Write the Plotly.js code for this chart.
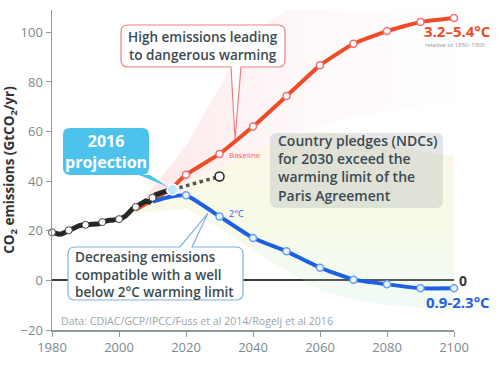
<!DOCTYPE html>
<html>
<head>
<meta charset="utf-8">
<script src="https://cdn.plot.ly/plotly-3.0.1.min.js"></script>
<style>html,body{margin:0;padding:0;background:#fff;}#chart{width:500px;height:370px;}</style>
</head>
<body>
<div id="chart"></div>
<script>
// ---------- data ----------
const histYears = [1980,1981,1982,1983,1984,1985,1986,1987,1988,1989,1990,1991,1992,1993,1994,1995,1996,1997,1998,1999,2000,2001,2002,2003,2004,2005,2006,2007,2008,2009,2010,2011,2012,2013,2014,2015,2016];
const histVals  = [19.4,18.8,18.6,18.8,19.5,20.2,20.8,21.3,22.0,22.3,22.4,22.6,22.3,22.4,22.8,23.5,24.0,24.2,24.2,24.5,24.7,25.2,26.0,27.6,28.8,29.6,30.6,31.5,32.0,31.6,33.3,34.6,35.1,35.7,36.0,36.2,36.6];
const projYear = [2016];
const projVal  = [36.6];
const ndcYears = [2016, 2030];
const ndcVals  = [36.6, 41.9];
const baseYears = [2005, 2010, 2015, 2020, 2030, 2040, 2050, 2060, 2070, 2080, 2090, 2100];
const baseVals  = [28.5, 32.5, 36.4, 42.6, 51.0, 62.0, 74.3, 86.7, 95.4, 100.5, 104.2, 105.8];
const twoYears = [2010, 2015, 2020, 2030, 2040, 2050, 2060, 2070, 2080, 2090, 2100];
const twoVals  = [31.8, 33.6, 34.3, 25.8, 17.1, 11.7, 5.1, 0.3, -1.6, -3.2, -3.2];
const fanYears   = [2005, 2020, 2030, 2040, 2050, 2060, 2070, 2080, 2090, 2100];
const pinkUpper  = [29, 54, 78, 100, 109, 109, 109, 109, 109, 109];
const pinkLower  = [28, 40, 46, 52, 58, 62, 66, 68, 70, 72];
const greenUpper = [28, 40, 46, 52, 58, 60, 58, 55, 52, 50];
const greenLower = [27, 29, 21, 12, 4, -4, -8, -10, -11, -12];
const xTicks = [1980, 2000, 2020, 2040, 2060, 2080, 2100];
const yTicks = [-20, 0, 20, 40, 60, 80, 100];

// ---------- geometry helpers (pixel -> paper) ----------
const L = 52, R = 454, T = 10, B = 330;
const W = R - L, H = B - T;
const px = x => (x - L) / W;
const py = y => (B - y) / H;
const P = (x, y) => px(x).toFixed(4) + ',' + py(y).toFixed(4);

function bubble(x0, y0, x1, y1, r, tail) {
  let d = 'M' + P(x0 + r, y0);
  if (tail && tail.side === 'top') d += ' L' + P(tail.a, y0) + ' L' + P(tail.tx, tail.ty) + ' L' + P(tail.b, y0);
  d += ' L' + P(x1 - r, y0) + ' Q' + P(x1, y0) + ' ' + P(x1, y0 + r);
  d += ' L' + P(x1, y1 - r) + ' Q' + P(x1, y1) + ' ' + P(x1 - r, y1);
  if (tail && tail.side === 'bottom') d += ' L' + P(tail.b, y1) + ' L' + P(tail.tx, tail.ty) + ' L' + P(tail.a, y1);
  d += ' L' + P(x0 + r, y1) + ' Q' + P(x0, y1) + ' ' + P(x0, y1 - r);
  d += ' L' + P(x0, y0 + r) + ' Q' + P(x0, y0) + ' ' + P(x0 + r, y0) + ' Z';
  return d;
}

const RED = '#f04b27', BLUE = '#1f5fe3', TXT = '#3b4a51', CYAN = '#4dc3ec';
const FONT = '"Open Sans", "DejaVu Sans", sans-serif';

const traces = [
  {x: fanYears, y: pinkLower, mode: 'lines', line: {width: 0}, hoverinfo: 'skip', showlegend: false},
  {x: fanYears, y: pinkUpper, mode: 'lines', line: {width: 0}, fill: 'tonexty',
   fillgradient: {type: 'horizontal', colorscale: [[0, 'rgba(245,110,120,0.18)'], [0.5, 'rgba(245,150,165,0.07)'], [1, 'rgba(250,190,200,0.03)']]},
   hoverinfo: 'skip', showlegend: false},
  {x: fanYears, y: greenLower, mode: 'lines', line: {width: 0}, hoverinfo: 'skip', showlegend: false},
  {x: fanYears, y: greenUpper, mode: 'lines', line: {width: 0}, fill: 'tonexty',
   fillgradient: {type: 'vertical', colorscale: [[0, 'rgba(170,225,205,0.16)'], [0.45, 'rgba(215,232,150,0.22)'], [1, 'rgba(248,215,150,0.22)']]},
   hoverinfo: 'skip', showlegend: false},
  // baseline
  {x: baseYears, y: baseVals, mode: 'lines', line: {color: RED, width: 4, shape: 'spline', smoothing: 0.4}, showlegend: false},
  {x: baseYears.filter(y => y >= 2020), y: baseVals.filter((v, i) => baseYears[i] >= 2020), mode: 'markers', cliponaxis: false,
   marker: {size: 7, color: '#fff', line: {color: '#f07070', width: 1.5}}, showlegend: false},
  // 2C
  {x: twoYears, y: twoVals, mode: 'lines', line: {color: BLUE, width: 4, shape: 'spline', smoothing: 0.4}, showlegend: false},
  {x: twoYears.filter(y => y >= 2020), y: twoVals.filter((v, i) => twoYears[i] >= 2020), mode: 'markers', cliponaxis: false,
   marker: {size: 7, color: '#eaf4ff', line: {color: '#6aa0f0', width: 1.5}}, showlegend: false},
  // NDC dotted
  {x: ndcYears, y: ndcVals, mode: 'lines', line: {color: '#555', width: 3.5, dash: 'dot'}, showlegend: false},
  {x: [ndcYears[1]], y: [ndcVals[1]], mode: 'markers', marker: {size: 9, color: '#fff', line: {color: '#222', width: 1.5}}, showlegend: false},
  // historical
  {x: histYears, y: histVals, mode: 'lines', line: {color: '#262626', width: 5}, showlegend: false},
  {x: histYears.filter(y => y % 5 === 0 && y < 2016), y: histVals.filter((v, i) => histYears[i] % 5 === 0 && histYears[i] < 2016), mode: 'markers', cliponaxis: false,
   marker: {size: 7, color: '#fff', line: {color: '#444', width: 1}}, showlegend: false},
  {x: projYear, y: projVal, mode: 'markers', marker: {size: 11, color: '#bfe9f8', line: {color: '#fff', width: 1.5}}, showlegend: false}
];

const shapes = [
  {type: 'path', xref: 'paper', yref: 'paper', path: bubble(121, 25, 285, 67, 7, {side: 'bottom', a: 231, b: 241, tx: 235, ty: 139}),
   fillcolor: '#ffffff', line: {color: '#f08080', width: 1.2}},
  {type: 'path', xref: 'paper', yref: 'paper', path: bubble(63, 128, 149, 175, 7, {side: 'bottom', a: 139, b: 150, tx: 168, ty: 187}),
   fillcolor: CYAN, line: {width: 0}},
  {type: 'path', xref: 'paper', yref: 'paper', path: bubble(68, 247, 243, 300, 7, {side: 'top', a: 180, b: 192, tx: 208, ty: 213}),
   fillcolor: '#ffffff', line: {color: '#7fb2ea', width: 1.2}},
  {type: 'path', xref: 'paper', yref: 'paper', path: bubble(270, 133, 443, 208, 7),
   fillcolor: 'rgba(175,182,182,0.35)', line: {width: 0}}
];

const ann = (x, y, text, opts) => Object.assign({xref: 'paper', yref: 'paper', x: px(x), y: py(y), text: text, showarrow: false,
  xanchor: 'center', yanchor: 'middle',
  font: {family: FONT, size: 14, color: TXT, weight: 600}}, opts || {});

const annotations = [
  ann(203, 46, 'High emissions leading<br>to dangerous warming', {font: {family: FONT, size: 13.5, color: TXT, weight: 600}}),
  ann(106, 151, '2016<br>projection', {font: {family: FONT, size: 16, color: '#fff', weight: 700}}),
  ann(276, 168, 'Country pledges (NDCs)<br>for 2030 exceed the<br>warming limit of the<br>Paris Agreement', {xanchor: 'left', align: 'left', font: {family: FONT, size: 14, color: TXT, weight: 600}}),
  ann(73, 274, 'Decreasing emissions<br>compatible with a well<br>below 2°C warming limit', {xanchor: 'left', align: 'left', font: {family: FONT, size: 13.5, color: TXT, weight: 600}}),
  ann(227, 154, 'Baseline', {xanchor: 'left', font: {family: FONT, size: 8, color: '#f06a6a'}}),
  ann(227, 213, '2°C', {xanchor: 'left', font: {family: FONT, size: 9, color: BLUE}}),
  ann(422, 31, '3.2–5.4°C', {xanchor: 'left', font: {family: FONT, size: 15, color: RED, weight: 700}}),
  ann(423, 45, 'relative to 1850–1900', {xanchor: 'left', font: {family: FONT, size: 6, color: '#8a9599'}}),
  ann(424, 302, '0.9-2.3°C', {xanchor: 'left', font: {family: FONT, size: 15, color: BLUE, weight: 700}}),
  ann(457, 280, '0', {xanchor: 'left', font: {family: FONT, size: 14, color: '#3a3a3a', weight: 700}}),
  ann(59, 321, 'Data: CDIAC/GCP/IPCC/Fuss et al 2014/Rogelj et al 2016', {xanchor: 'left', font: {family: FONT, size: 10.6, color: '#9aa5a8'}})
];

const layout = {
  width: 500, height: 370,
  margin: {l: L, r: 500 - R, t: T, b: 370 - B},
  paper_bgcolor: '#fff', plot_bgcolor: '#fff',
  showlegend: false,
  font: {family: FONT},
  xaxis: {range: [1980, 2100], tickvals: xTicks, ticktext: xTicks.map(String), showgrid: false, zeroline: false,
          showline: true, linecolor: '#8f9a9d', linewidth: 1.5, ticks: 'outside', ticklen: 5, tickcolor: '#8f9a9d',
          tickfont: {family: FONT, size: 13, color: '#7d8a8e'}, fixedrange: true},
  yaxis: {range: [-20, 109], tickvals: yTicks, ticktext: yTicks.map(v => v < 0 ? '−' + Math.abs(v) : String(v)), showgrid: false,
          zeroline: true, zerolinecolor: '#3a3a3a', zerolinewidth: 2,
          showline: true, linecolor: '#8f9a9d', linewidth: 1.5, ticks: 'outside', ticklen: 5, tickcolor: '#8f9a9d',
          tickfont: {family: FONT, size: 13, color: '#7d8a8e'},
          title: {text: 'CO<sub>2</sub> emissions (GtCO<sub>2</sub>/yr)', font: {family: FONT, size: 13.5, color: '#333', weight: 700}, standoff: 4},
          fixedrange: true},
  shapes: shapes,
  annotations: annotations
};

Plotly.newPlot('chart', traces, layout, {displayModeBar: false, staticPlot: true});
</script>
</body>
</html>
